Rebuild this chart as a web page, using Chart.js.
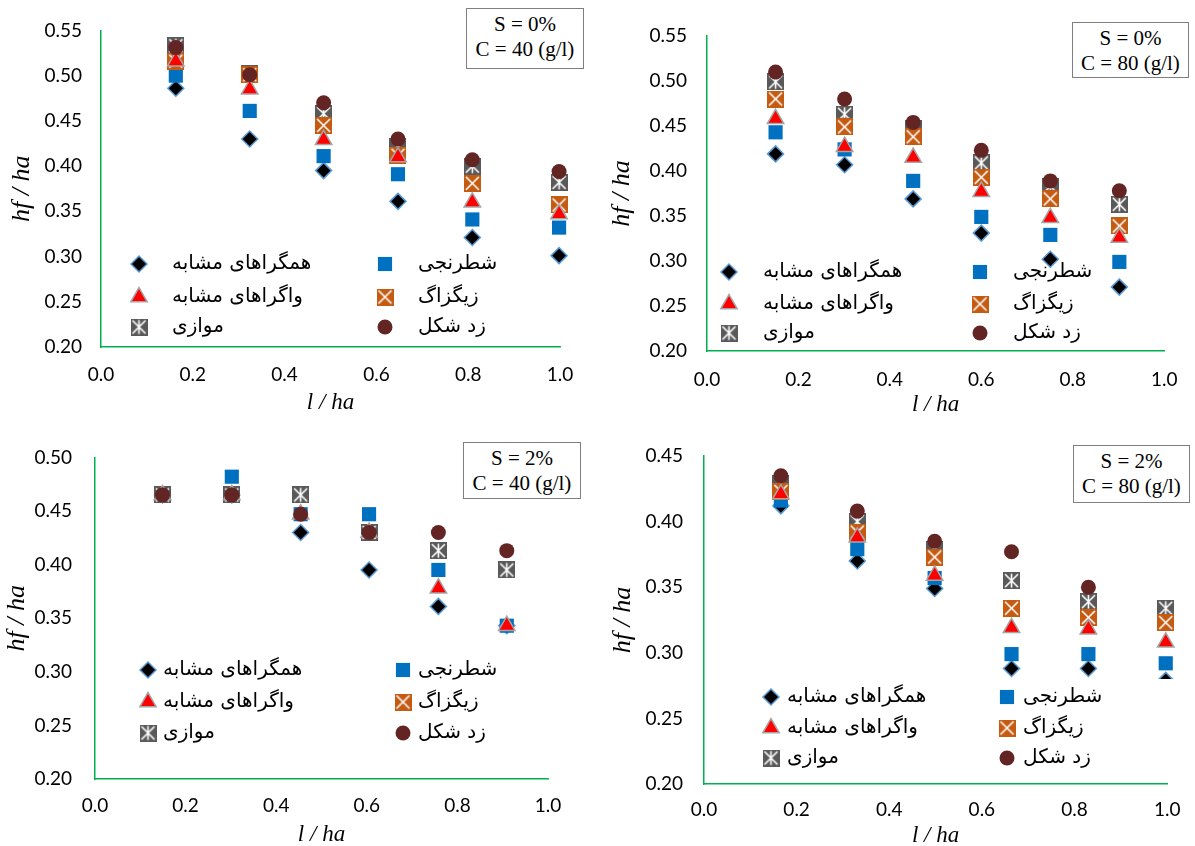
<!DOCTYPE html>
<html>
<head>
<meta charset="utf-8">
<script src="https://cdn.jsdelivr.net/npm/chart.js@4.4.1/dist/chart.umd.min.js"></script>
<style>
  body { margin: 0; width: 1195px; height: 846px; position: relative; overflow: hidden; background: #fff; }
  .panel { position: absolute; }
  .note {
    position: absolute; background: #fff; border: 1.5px solid #7f7f7f; box-sizing: border-box;
    font-family: "Liberation Serif", serif; font-size: 21px; line-height: 25px; text-align: center;
    color: #000; padding-top: 3px;
  }
</style>
</head>
<body>
<div id="p1" class="panel"><canvas id="c1"></canvas></div>
<div id="p2" class="panel"><canvas id="c2"></canvas></div>
<div id="p3" class="panel"><canvas id="c3"></canvas></div>
<div id="p4" class="panel"><canvas id="c4"></canvas></div>

<div class="note" style="left:466px;top:8px;width:118px;height:61px;">S = 0%<br>C = 40 (g/l)</div>
<div class="note" style="left:1072px;top:22px;width:117px;height:56px;">S = 0%<br>C = 80 (g/l)</div>
<div class="note" style="left:463px;top:442px;width:118px;height:57px;">S = 2%<br>C = 40 (g/l)</div>
<div class="note" style="left:1073px;top:445px;width:117px;height:58px;">S = 2%<br>C = 80 (g/l)</div>

<script>
// legend names, in series order
const seriesLabels = ['همگراهای مشابه', 'شطرنجی', 'واگراهای مشابه', 'زیگزاگ', 'موازی', 'زد شکل'];
const xTitle = 'l / ha';
const yTitle = 'hf / ha';

// S = 0%, C = 40 g/l
const xS0C40 = [0.163, 0.324, 0.485, 0.647, 0.809, 0.998];
const convS0C40 = [0.486, 0.430, 0.395, 0.361, 0.321, 0.301];
const checkS0C40 = [0.500, 0.461, 0.411, 0.391, 0.341, 0.332];
const divS0C40 = [0.516, 0.485, 0.429, 0.410, 0.360, 0.347];
const zigS0C40 = [0.516, 0.501, 0.445, 0.412, 0.381, 0.357];
const parS0C40 = [0.533, 0.502, 0.458, 0.422, 0.400, 0.382];
const zS0C40 = [0.531, 0.501, 0.470, 0.430, 0.407, 0.394];

// S = 0%, C = 80 g/l
const xS0C80 = [0.150, 0.301, 0.451, 0.600, 0.751, 0.902];
const convS0C80 = [0.419, 0.407, 0.369, 0.331, 0.302, 0.271];
const checkS0C80 = [0.443, 0.424, 0.389, 0.349, 0.329, 0.299];
const divS0C80 = [0.458, 0.427, 0.415, 0.377, 0.348, 0.326];
const zigS0C80 = [0.480, 0.449, 0.438, 0.393, 0.369, 0.339];
const parS0C80 = [0.499, 0.463, 0.447, 0.409, 0.383, 0.363];
const zS0C80 = [0.510, 0.480, 0.454, 0.423, 0.389, 0.378];

// S = 2%, C = 40 g/l
const xS2C40 = [0.149, 0.302, 0.454, 0.605, 0.758, 0.909];
const convS2C40 = [0.465, 0.465, 0.430, 0.395, 0.361, 0.343];
const checkS2C40 = [0.465, 0.482, 0.447, 0.447, 0.395, 0.343];
const divS2C40 = [0.465, 0.465, 0.447, 0.430, 0.378, 0.343];
const zigS2C40 = [0.465, 0.465, 0.465, 0.430, 0.413, 0.395];
const parS2C40 = [0.465, 0.465, 0.465, 0.430, 0.413, 0.395];
const zS2C40 = [0.465, 0.465, 0.447, 0.430, 0.430, 0.413];

// S = 2%, C = 80 g/l
const xS2C80 = [0.166, 0.331, 0.498, 0.664, 0.830, 0.997];
const convS2C80 = [0.412, 0.370, 0.349, 0.288, 0.288, 0.279];
const checkS2C80 = [0.416, 0.379, 0.357, 0.299, 0.299, 0.292];
const divS2C80 = [0.421, 0.388, 0.359, 0.319, 0.318, 0.308];
const zigS2C80 = [0.423, 0.392, 0.373, 0.334, 0.327, 0.323];
const parS2C80 = [0.429, 0.400, 0.379, 0.355, 0.339, 0.334];
const zS2C80 = [0.435, 0.408, 0.385, 0.377, 0.350, null];

const green = '#00B050';

// box markers (zigzag and parallel)
function boxMarker(fill, withBar) {
  const c = document.createElement('canvas');
  c.width = 17;
  c.height = 17;
  const g = c.getContext('2d');
  g.fillStyle = fill;
  g.fillRect(0, 0, 17, 17);
  g.strokeStyle = '#fff';
  g.lineWidth = 1.6;
  g.beginPath();
  g.moveTo(2, 2); g.lineTo(15, 15);
  g.moveTo(15, 2); g.lineTo(2, 15);
  if (withBar) { g.moveTo(8.5, 1.5); g.lineTo(8.5, 15.5); }
  g.stroke();
  return c;
}

// one style per series; lower order is drawn on top
const styles = [
  { pointStyle: 'rectRot', radius: 8, bg: '#000000', border: '#5B9BD5', bw: 1.5, order: 5 },
  { pointStyle: 'rect', radius: 10, bg: '#0070C0', border: '#0070C0', bw: 0, order: 4 },
  { pointStyle: 'triangle', radius: 9.5, bg: '#FF0000', border: '#A5A5A5', bw: 1.5, order: 1 },
  { pointStyle: boxMarker('#C55A11', false), radius: 8, bg: '#C55A11', border: '#C55A11', bw: 0, order: 2 },
  { pointStyle: boxMarker('#595959', true), radius: 8, bg: '#595959', border: '#595959', bw: 0, order: 3 },
  { pointStyle: 'circle', radius: 7.5, bg: '#632523', border: '#632523', bw: 0, order: 0 }
];

// legend drawn inside the plot, two columns
const panelLegend = {
  id: 'panelLegend',
  afterDatasetsDraw(chart, args, opts) {
    if (!opts || !opts.rows) return;
    const ctx = chart.ctx;
    ctx.save();
    if (opts.rect) {
      ctx.fillStyle = '#fff';
      ctx.fillRect(opts.rect[0], opts.rect[1], opts.rect[2], opts.rect[3]);
    }
    const slots = [[0, 0], [1, 0], [0, 1], [1, 1], [0, 2], [1, 2]];
    slots.forEach(([col, row], i) => {
      const s = styles[i];
      const x = opts.marker[col];
      const y = opts.rows[row];
      ctx.fillStyle = s.bg;
      ctx.strokeStyle = s.border;
      ctx.lineWidth = s.bw;
      Chart.helpers.drawPoint(ctx, { pointStyle: s.pointStyle, radius: s.radius, rotation: 0, borderWidth: s.bw }, x, y);
      ctx.fillStyle = '#000';
      ctx.font = '20px "DejaVu Sans", sans-serif';
      ctx.textAlign = 'left';
      ctx.textBaseline = 'middle';
      ctx.fillText(seriesLabels[i], opts.text[col], y);
    });
    ctx.restore();
  }
};

const panels = [
  { id: 'c1', div: 'p1', box: [0, 0, 597, 423], area: [101, 25, 560, 347], yMin: 0.2, yMax: 0.55,
    yTitleX: 22, yTickRight: 82, xTickY: 375, xTitleY: 403,
    x: xS0C40, series: [convS0C40, checkS0C40, divS0C40, zigS0C40, parS0C40, zS0C40],
    legend: { marker: [139, 385], text: [172, 418], rows: [264, 297, 327] } },
  { id: 'c2', div: 'p2', box: [597, 0, 598, 423], area: [707, 36, 1177, 351], yMin: 0.2, yMax: 0.55,
    yTitleX: 622, yTickRight: 687, xTickY: 380, xTitleY: 405,
    x: xS0C80, series: [convS0C80, checkS0C80, divS0C80, zigS0C80, parS0C80, zS0C80],
    legend: { marker: [729, 980], text: [763, 1013], rows: [272, 304, 333] } },
  { id: 'c3', div: 'p3', box: [0, 423, 597, 440], area: [95, 452, 548, 779], yMin: 0.2, yMax: 0.5,
    yTitleX: 17, yTickRight: 72, xTickY: 806, xTitleY: 835, parOver: true,
    x: xS2C40, series: [convS2C40, checkS2C40, divS2C40, zigS2C40, parS2C40, zS2C40],
    legend: { marker: [148, 403], text: [163, 418], rows: [670, 702, 733] } },
  { id: 'c4', div: 'p4', box: [597, 423, 598, 440], area: [704, 456, 1176, 784], yMin: 0.2, yMax: 0.45,
    yTitleX: 623, yTickRight: 683, xTickY: 810, xTitleY: 836,
    x: xS2C80, series: [convS2C80, checkS2C80, divS2C80, zigS2C80, parS2C80, zS2C80],
    legend: { rect: [754, 679, 426, 98], marker: [771, 1007], text: [787, 1023], rows: [697, 728, 758] } }
];

panels.forEach((p) => {
  const [bl, bt, bw, bh] = p.box;
  const [al, at, ar, ab] = p.area;
  const div = document.getElementById(p.div);
  div.style.left = bl + 'px';
  div.style.top = bt + 'px';
  div.style.width = bw + 'px';
  div.style.height = bh + 'px';

  const xh = p.xTitleY + 13.8 - ab;

  const datasets = p.series.map((ys, i) => {
    const s = styles[i];
    let order = s.order;
    // in this panel the parallel markers sit over the zigzag ones
    if (p.parOver && i === 3) order = 3;
    if (p.parOver && i === 4) order = 2;
    return {
      label: seriesLabels[i],
      data: p.x.map((xv, j) => ({ x: xv, y: ys[j] })).filter((d) => d.y !== null),
      pointStyle: s.pointStyle,
      pointRadius: s.radius,
      backgroundColor: s.bg,
      borderColor: s.border,
      borderWidth: s.bw,
      order: order,
      clip: false
    };
  });

  const lg = p.legend;
  new Chart(document.getElementById(p.id), {
    type: 'scatter',
    data: { datasets },
    plugins: [panelLegend],
    options: {
      responsive: true,
      maintainAspectRatio: false,
      animation: false,
      events: [],
      layout: { padding: { left: 0, top: at - bt, right: bl + bw - ar, bottom: bt + bh - ab - xh } },
      plugins: {
        legend: { display: false },
        tooltip: { enabled: false },
        panelLegend: {
          rect: lg.rect ? [lg.rect[0] - bl, lg.rect[1] - bt, lg.rect[2], lg.rect[3]] : null,
          marker: lg.marker.map((v) => v - bl),
          text: lg.text.map((v) => v - bl),
          rows: lg.rows.map((v) => v - bt)
        }
      },
      scales: {
        x: {
          type: 'linear', min: 0, max: 1,
          grid: { display: false, drawTicks: false },
          border: { display: true, color: green, width: 1.5 },
          ticks: {
            stepSize: 0.2, padding: p.xTickY - ab - 11.4, color: '#000',
            font: { family: 'Lato', size: 19 },
            callback: (v) => Number(v).toFixed(1)
          },
          title: { display: true, text: xTitle, color: '#000', padding: 0,
            font: { family: 'Liberation Serif', size: 23, style: 'italic' } },
          afterFit(s) { s.height = xh; }
        },
        y: {
          min: p.yMin, max: p.yMax,
          grid: { display: false, drawTicks: false },
          border: { display: true, color: green, width: 1.5 },
          ticks: {
            stepSize: 0.05, padding: al - p.yTickRight, color: '#000',
            font: { family: 'Lato', size: 19 },
            callback: (v) => Number(v).toFixed(2)
          },
          title: { display: true, text: yTitle, color: '#000', padding: { top: p.yTitleX - bl - 15.6, bottom: 0 },
            font: { family: 'Liberation Serif', size: 26, style: 'italic' } },
          afterFit(s) { s.width = al - bl; }
        }
      }
    }
  });
});
</script>
</body>
</html>
